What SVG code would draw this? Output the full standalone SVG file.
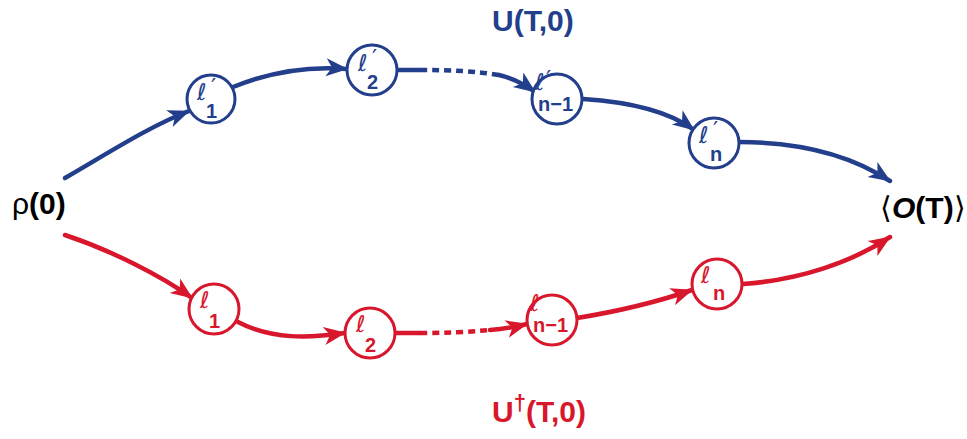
<svg xmlns="http://www.w3.org/2000/svg" width="967" height="439" viewBox="0 0 967 439">
<style>
.bl{stroke:#233f8c;fill:none;stroke-width:4.5;stroke-linecap:round}
.rd{stroke:#d8172c;fill:none;stroke-width:4.5;stroke-linecap:round}
.dot{stroke-dasharray:7 5;stroke-linecap:butt}
.nb{fill:#fff;stroke:#233f8c;stroke-width:3}
.nr{fill:#fff;stroke:#d8172c;stroke-width:3}
.tb{fill:#233f8c}
.tr{fill:#d8172c}
.ell{font-family:"DejaVu Sans",sans-serif;font-style:italic;font-size:23px}
.pr{font-family:"DejaVu Sans",sans-serif;font-size:23px}
.sub{font-family:"Liberation Sans",sans-serif;font-weight:bold;font-size:20px}
.big{font-family:"Liberation Sans",sans-serif;font-weight:bold;font-size:30px}
</style>
<defs>
<marker id="ab" markerUnits="userSpaceOnUse" markerWidth="24" markerHeight="20" refX="21" refY="9" orient="auto"><path d="M0,0 L22,9 L0,18 L6,9 z" fill="#233f8c"/></marker>
<marker id="ar" markerUnits="userSpaceOnUse" markerWidth="24" markerHeight="20" refX="21" refY="9" orient="auto"><path d="M0,0 L22,9 L0,18 L6,9 z" fill="#d8172c"/></marker>
</defs>
<g id="connectors">
<path class="bl" d="M65 178 C110 152 150 126 189 111" marker-end="url(#ab)"/>
<path class="bl" d="M233 87 C270 72 310 66 347 69" marker-end="url(#ab)"/>
<path class="bl" d="M397 70 L420 70"/>
<path class="bl dot" d="M420 70 C450 70 475 71 499 75"/>
<path class="bl" d="M499 75 C512 78 524 84 535 92" marker-end="url(#ab)"/>
<path class="bl" d="M583 99 C630 102 670 112 694 130" marker-end="url(#ab)"/>
<path class="bl" d="M739 142 C800 142 852 156 890 181" marker-end="url(#ab)"/>
<path class="rd" d="M65 235 C110 250 160 275 192 298" marker-end="url(#ar)"/>
<path class="rd" d="M238 322 C272 340 310 338 345 333" marker-end="url(#ar)"/>
<path class="rd" d="M396 333 L420 333"/>
<path class="rd dot" d="M420 333 C445 333 468 332 490 330"/>
<path class="rd" d="M490 330 C504 329 515 327 527 324" marker-end="url(#ar)"/>
<path class="rd" d="M577 318 C620 311 660 301 692 290" marker-end="url(#ar)"/>
<path class="rd" d="M743 284 C800 280 852 262 890 237" marker-end="url(#ar)"/>
</g>
<g id="rho0"><text class="big" x="12" y="214"><tspan font-weight="normal">ρ</tspan>(0)</text></g>
<g id="OT"><text class="big" x="880" y="218"><tspan font-weight="normal">⟨</tspan><tspan font-style="italic">O</tspan>(T)<tspan font-weight="normal">⟩</tspan></text></g>
<g id="U"><text class="big tb" x="492" y="31">U(T,0)</text></g>
<g id="Udag"><text class="big tr" x="492" y="422" font-size="29">U<tspan font-size="22" dy="-12">†</tspan><tspan dy="12">(T,0)</tspan></text></g>
<g id="lp1"><circle class="nb" cx="211" cy="99" r="24"/><text class="ell tb" x="197" y="100">ℓ</text><text class="pr tb" x="211" y="95">′</text><text class="sub tb" x="206" y="118">1</text></g>
<g id="lp2"><circle class="nb" cx="372" cy="70" r="25"/><text class="ell tb" x="358" y="71">ℓ</text><text class="pr tb" x="372" y="66">′</text><text class="sub tb" x="367" y="89">2</text></g>
<g id="lpn1"><circle class="nb" cx="557" cy="99" r="25"/><text class="ell tb" x="535" y="90" font-size="17">ℓ</text><text class="pr tb" x="546" y="87" font-size="17">′</text><text class="sub tb" x="538" y="111" font-size="19">n−1</text></g>
<g id="lpn"><circle class="nb" cx="714" cy="143" r="25"/><text class="ell tb" x="699" y="143">ℓ</text><text class="pr tb" x="713" y="138">′</text><text class="sub tb" x="710" y="161">n</text></g>
<g id="l1"><circle class="nr" cx="214" cy="309" r="25"/><text class="ell tr" x="200" y="308">ℓ</text><text class="sub tr" x="209" y="328">1</text></g>
<g id="l2"><circle class="nr" cx="370" cy="333" r="25"/><text class="ell tr" x="356" y="332">ℓ</text><text class="sub tr" x="365" y="352">2</text></g>
<g id="ln1"><circle class="nr" cx="552" cy="320" r="25"/><text class="ell tr" x="530" y="311" font-size="17">ℓ</text><text class="sub tr" x="533" y="332" font-size="19">n−1</text></g>
<g id="ln"><circle class="nr" cx="717" cy="284" r="25"/><text class="ell tr" x="701" y="283">ℓ</text><text class="sub tr" x="713" y="300">n</text></g>
</svg>
